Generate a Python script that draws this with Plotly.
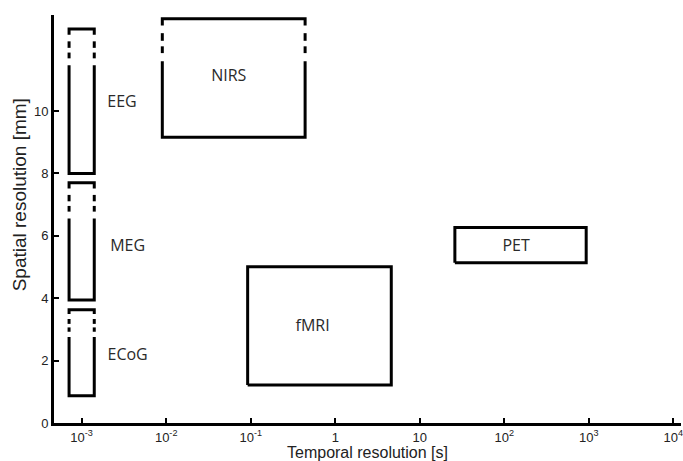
import plotly.graph_objects as go

# ---- data ----
modalities = ["EEG", "MEG", "ECoG", "NIRS", "fMRI", "PET"]
t_min = [0.00071, 0.00071, 0.00071, 0.0090, 0.092, 26]      # s
t_max = [0.00141, 0.00141, 0.00141, 0.44, 4.6, 930]         # s
s_min = [8.0, 3.94, 0.87, 9.16, 1.22, 5.14]                 # mm
s_max = [12.63, 7.70, 3.63, 12.96, 5.01, 6.27]              # mm
s_solid_top = [11.47, 6.56, 2.76, 11.60, None, None]        # mm (None: fully solid)
label_t = [0.0030, 0.0035, 0.0035, 0.055, 0.54, 138]
label_s = [10.27, 5.65, 2.15, 11.1, 3.09, 5.65]

x_tickvals = [1e-3, 1e-2, 1e-1, 1, 10, 1e2, 1e3, 1e4]
x_ticktext = ["10<sup>-3</sup>", "10<sup>-2</sup>", "10<sup>-1</sup>", "1", "10",
              "10<sup>2</sup>", "10<sup>3</sup>", "10<sup>4</sup>"]
y_tickvals = [0, 2, 4, 6, 8, 10]

# dashed-section pattern (fractions of the open part measured from top)
leg_frac = 0.16
dash_fracs = [(0.34, 0.52), (0.65, 0.81)]

LW = 3
fig = go.Figure()

def add_line(xs, ys):
    fig.add_trace(go.Scatter(x=xs, y=ys, mode="lines",
                             line=dict(color="black", width=LW),
                             hoverinfo="skip", showlegend=False))

for i, name in enumerate(modalities):
    x0, x1, y0, yt, ys = t_min[i], t_max[i], s_min[i], s_max[i], s_solid_top[i]
    if ys is None:
        add_line([x0, x0, x1, x1, x0], [y0, yt, yt, y0, y0])
    else:
        add_line([x0, x0, x1, x1], [ys, y0, y0, ys])
        gap = yt - ys
        add_line([x0, x0, x1, x1], [yt - leg_frac * gap, yt, yt, yt - leg_frac * gap])
        xs, yy = [], []
        for a, b in dash_fracs:
            for xv in (x0, x1):
                xs += [xv, xv, None]
                yy += [yt - a * gap, yt - b * gap, None]
        add_line(xs, yy)

fig.add_trace(go.Scatter(x=label_t, y=label_s, mode="text", text=modalities,
                         textposition="middle center",
                         textfont=dict(family="Open Sans", size=16, color="#2a2a2a"),
                         hoverinfo="skip", showlegend=False))

fig.add_annotation(text="Spatial resolution [mm]", textangle=-90,
                   xref="paper", yref="paper", x=-0.0545, y=0.56,
                   xanchor="center", yanchor="middle", showarrow=False,
                   font=dict(family="Liberation Sans, Arial", size=19, color="#222222"))

fig.update_layout(
    width=683, height=461,
    margin=dict(l=54, r=0, t=15, b=38),
    paper_bgcolor="white", plot_bgcolor="white",
    font=dict(family="Liberation Sans, Arial", color="#222222"),
    xaxis=dict(type="log", range=[-3.327, 4.09],
               tickvals=x_tickvals, ticktext=x_ticktext,
               ticks="inside", ticklen=5, tickwidth=2, tickcolor="black",
               ticklabeloverflow="allow",
               showline=True, linewidth=3, linecolor="black",
               showgrid=False, zeroline=False,
               tickfont=dict(size=13, color="#222222"),
               title=dict(text="Temporal resolution [s]", standoff=2,
                          font=dict(size=16, color="#222222"))),
    yaxis=dict(range=[0, 13.08], tickvals=y_tickvals,
               ticks="inside", ticklen=5, tickwidth=2, tickcolor="black",
               showline=True, linewidth=3, linecolor="black",
               showgrid=False, zeroline=False,
               tickfont=dict(size=13, color="#222222")),
)

fig.write_html("out.html")
